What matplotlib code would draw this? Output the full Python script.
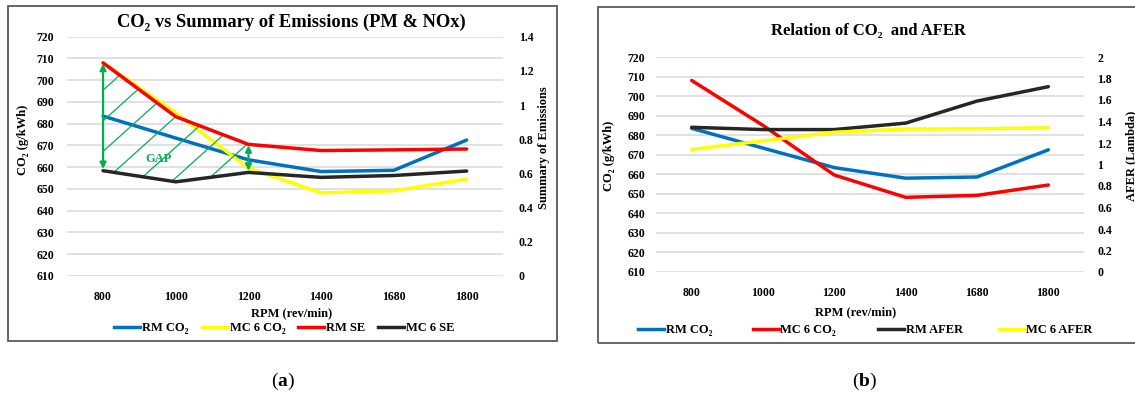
import matplotlib
matplotlib.use("Agg")
import matplotlib.pyplot as plt
from matplotlib.lines import Line2D
from matplotlib.patches import Rectangle
import numpy as np

# ---------------- data ----------------
rpm = ["800", "1000", "1200", "1400", "1680", "1800"]
rm_co2 = [683.5, 673.4, 663.4, 658.0, 658.6, 672.5]
mc6_co2 = [708.0, 685.0, 659.6, 648.2, 649.2, 654.5]
rm_se = [1.247, 0.932, 0.770, 0.734, 0.738, 0.743]
mc6_se = [0.616, 0.551, 0.606, 0.577, 0.588, 0.614]
rm_afer = [1.346, 1.325, 1.325, 1.385, 1.590, 1.724]
mc6_afer = [1.141, 1.220, 1.300, 1.330, 1.332, 1.342]

co2_ticks = list(range(610, 721, 10))
se_ticks = [0, 0.2, 0.4, 0.6, 0.8, 1.0, 1.2, 1.4]
se_labels = ["0", "0.2", "0.4", "0.6", "0.8", "1", "1.2", "1.4"]
afer_ticks = [0, 0.2, 0.4, 0.6, 0.8, 1.0, 1.2, 1.4, 1.6, 1.8, 2.0]
afer_labels = ["0", "0.2", "0.4", "0.6", "0.8", "1", "1.2", "1.4", "1.6", "1.8", "2"]

BLUE = "#0070C0"
YEL = "#FFFF00"
RED = "#FF0000"
BLK = "#262626"
GREEN = "#00B050"
GRID = "#D9D9D9"

SERIF = ["Liberation Serif", "DejaVu Serif"]
plt.rcParams["font.family"] = SERIF
plt.rcParams["mathtext.fontset"] = "custom"
plt.rcParams["mathtext.rm"] = "Liberation Serif"
plt.rcParams["mathtext.bf"] = "Liberation Serif:bold"
plt.rcParams["mathtext.it"] = "Liberation Serif:italic"

W, H = 1135, 396
fig = plt.figure(figsize=(W / 100, H / 100), dpi=100)


def fx(px):
    return px / W


def fy(py):
    return 1 - py / H


def make_axes(x0, x1, ytop, ybot):
    return fig.add_axes([fx(x0), fy(ybot), fx(x1) - fx(x0), (ybot - ytop) / H])


tick_font = dict(size=8.5, weight="bold")
LW = 2.5


def style(ax, ax2, r_ticks, r_labels, r_max, lpad, rpad, xpad):
    x = np.arange(len(rpm))
    ax.set_xlim(-0.5, len(rpm) - 0.5)
    ax.set_ylim(610, 720)
    ax.set_yticks(co2_ticks)
    ax.set_yticklabels([str(t) for t in co2_ticks], **tick_font)
    ax.set_xticks(x)
    ax.set_xticklabels(rpm, **tick_font)
    ax.tick_params(axis="y", length=0, pad=lpad)
    ax.tick_params(axis="x", length=0, pad=xpad)
    ax.grid(axis="y", color=GRID, lw=1.1)
    ax.set_axisbelow(True)
    for s in ax.spines.values():
        s.set_visible(False)
    ax2.set_ylim(0, r_max)
    ax2.set_yticks(r_ticks)
    ax2.set_yticklabels(r_labels, **tick_font)
    ax2.tick_params(axis="y", length=0, pad=rpad)
    for s in ax2.spines.values():
        s.set_visible(False)


# ---------------- panel (a) ----------------
axa = make_axes(66.7, 503, 36.7, 276)
axa2 = axa.twinx()
style(axa, axa2, se_ticks, se_labels, 1.4, 9.0, 11.5, 10.5)
xa = np.arange(len(rpm))

# gap hatch region between RM SE and MC 6 SE (800..1200)
poly = axa2.fill_between(xa[:3], rm_se[:3], mc6_se[:3], color="none", lw=0)
clip_path = poly.get_paths()[0]
wpx, hpx = 503 - 66.7, 276 - 36.7
ang = np.deg2rad(42)
for k in range(-12, 30):
    x0 = k * 34.0
    x1 = x0 + hpx / np.tan(ang)
    ln = Line2D([x0 / wpx, x1 / wpx], [0, 1], transform=axa2.transAxes,
                color=GREEN, lw=0.9, zorder=1)
    axa2.add_line(ln)
    ln.set_clip_path(clip_path, axa2.transData)

axa.plot(xa, rm_co2, color=BLUE, lw=LW, solid_capstyle="round", zorder=3)
axa.plot(xa, mc6_co2, color=YEL, lw=LW, solid_capstyle="round", zorder=3)
axa2.plot(xa, rm_se, color=RED, lw=LW, solid_capstyle="round", zorder=3)
axa2.plot(xa, mc6_se, color=BLK, lw=LW, solid_capstyle="round", zorder=3)

for i in (0, 2):
    axa2.annotate("", xy=(xa[i], mc6_se[i] + 0.01), xytext=(xa[i], rm_se[i] - 0.005),
                  arrowprops=dict(arrowstyle="<|-|>", color=GREEN, lw=1.6,
                                  mutation_scale=9, shrinkA=0, shrinkB=0), zorder=4)
axa.text(0.77, 664, "GAP", color=GREEN, fontsize=9, weight="bold",
         ha="center", va="center", zorder=5)

fig.text(fx(291), fy(22), "CO₂ vs Summary of Emissions (PM & NOx)",
         ha="center", va="center", fontsize=13.3, weight="bold")
fig.text(fx(292), fy(313), "RPM (rev/min)", ha="center", va="center",
         fontsize=9, weight="bold")
fig.text(fx(23), fy(140), "CO₂ (g/kWh)", ha="center", va="center",
         rotation=90, fontsize=9, weight="bold")
fig.text(fx(544), fy(148), "Summary of Emissions", ha="center", va="center",
         rotation=90, fontsize=9, weight="bold")

# ---------------- panel (b) ----------------
axb = make_axes(656, 1084, 57, 272)
axb2 = axb.twinx()
style(axb, axb2, afer_ticks, afer_labels, 2.0, 8.0, 9.4, 10.5)
axb.plot(xa, rm_co2, color=BLUE, lw=LW, solid_capstyle="round", zorder=3)
axb.plot(xa, mc6_co2, color=RED, lw=LW, solid_capstyle="round", zorder=3)
axb2.plot(xa, rm_afer, color=BLK, lw=LW, solid_capstyle="round", zorder=3)
axb2.plot(xa, mc6_afer, color=YEL, lw=LW, solid_capstyle="round", zorder=3)

fig.text(fx(868), fy(31), "Relation of CO₂  and AFER", ha="center", va="center",
         fontsize=12, weight="bold")
fig.text(fx(856), fy(312), "RPM (rev/min)", ha="center", va="center",
         fontsize=9, weight="bold")
fig.text(fx(609), fy(156), "CO₂ (g/kWh)", ha="center", va="center",
         rotation=90, fontsize=9, weight="bold")
fig.text(fx(1131), fy(156), "AFER (Lambda)", ha="center", va="center",
         rotation=90, fontsize=9, weight="bold")

# ---------------- legends ----------------
leg_font = dict(family=SERIF, size=9, weight="bold")


def leg(xpx, ypx, color, label):
    h = Line2D([], [], color=color, lw=LW)
    fig.legend([h], [label], loc="center left", bbox_to_anchor=(fx(xpx), fy(ypx)),
               frameon=False, borderpad=0, borderaxespad=0, handlelength=2.1,
               handletextpad=0.1, prop=leg_font)


leg(114, 328, BLUE, "RM CO₂")
leg(202, 328, YEL, "MC 6 CO₂")
leg(298, 328, RED, "RM SE")
leg(378, 328, BLK, "MC 6 SE")

leg(638, 330, BLUE, "RM CO₂")
leg(753, 330, RED, "MC 6 CO₂")
leg(878, 330, BLK, "RM AFER")
leg(999, 330, YEL, "MC 6 AFER")

# ---------------- frames ----------------
fig.patches.append(Rectangle((fx(8), fy(341)), fx(557) - fx(8), (341 - 6) / H,
                             transform=fig.transFigure, fill=False,
                             edgecolor="#595959", lw=1.3))
fig.patches.append(Rectangle((fx(598), fy(343)), fx(1145) - fx(598), (343 - 7) / H,
                             transform=fig.transFigure, fill=False,
                             edgecolor="#595959", lw=1.3))

# captions
fig.text(fx(283), fy(381), r"($\mathbf{a}$)", ha="center", va="center", fontsize=14)
fig.text(fx(865), fy(381), r"($\mathbf{b}$)", ha="center", va="center", fontsize=14)

fig.savefig("out.png", dpi=100)
